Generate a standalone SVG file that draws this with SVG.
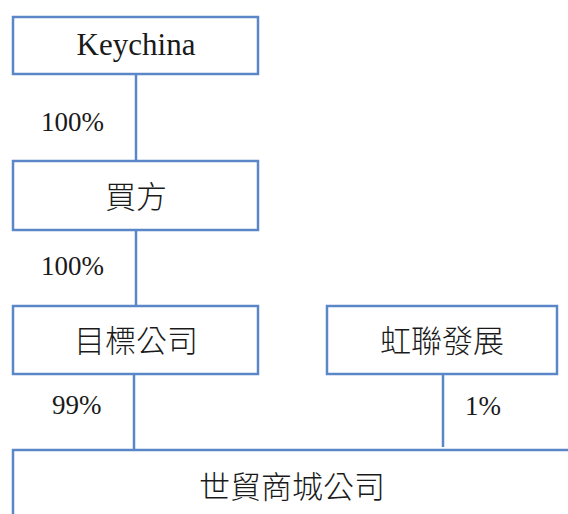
<svg xmlns="http://www.w3.org/2000/svg" width="568" height="514" viewBox="0 0 568 514">
<style>
.box{fill:#ffffff;stroke:#5B87C9;stroke-width:2.5}
.ln{stroke:#5B87C9;stroke-width:2.5;fill:none}
.en{font-family:'Liberation Serif','Times New Roman','DejaVu Serif',serif;fill:#1a1a1a}
.zh{font-family:'Noto Sans CJK TC','Noto Sans CJK SC',sans-serif;font-weight:300;fill:#1a1a1a;font-size:31px;text-anchor:middle;dominant-baseline:central}
.pct{font-family:'Liberation Serif','Times New Roman','DejaVu Serif',serif;font-size:27px;fill:#1a1a1a}
</style>
<rect width="568" height="514" fill="#ffffff"/>
<g id="connectors">
<line class="ln" x1="136" y1="74" x2="136" y2="161"/>
<line class="ln" x1="136" y1="230" x2="136" y2="306"/>
<line class="ln" x1="134" y1="374" x2="134" y2="450"/>
<line class="ln" x1="443" y1="374" x2="443" y2="447"/>
<text class="pct" x="41" y="131">100%</text>
<text class="pct" x="41" y="275">100%</text>
<text class="pct" x="52" y="414">99%</text>
<text class="pct" x="465" y="415">1%</text>
</g>
<g id="keychina">
<rect class="box" x="13" y="17" width="245" height="57"/>
<text class="en" x="136" y="55" font-size="31" text-anchor="middle">Keychina</text>
</g>
<g id="buyer">
<rect class="box" x="13" y="161" width="245" height="69"/>
<text class="zh" x="136" y="194">買方</text>
</g>
<g id="target">
<rect class="box" x="13" y="306" width="245" height="68"/>
<text class="zh" x="136" y="338">目標公司</text>
</g>
<g id="honglian">
<rect class="box" x="327" y="306" width="230" height="68"/>
<text class="zh" x="442" y="338">虹聯發展</text>
</g>
<g id="mall">
<rect class="box" x="13" y="450" width="600" height="100"/>
<text class="zh" x="292" y="484">世貿商城公司</text>
</g>
</svg>
